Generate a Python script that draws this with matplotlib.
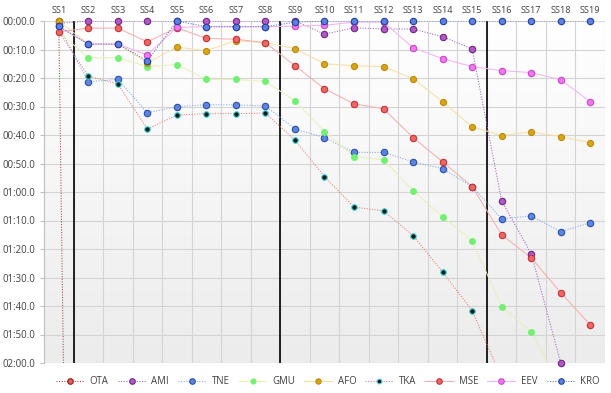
import numpy as np
import matplotlib
matplotlib.use("Agg")
import matplotlib.pyplot as plt
from matplotlib.colors import LinearSegmentedColormap
from matplotlib.lines import Line2D

nan = np.nan
stages = ["SS%d" % i for i in range(1, 20)]

# gap to leader, seconds
OTA = [0, 760] + [nan] * 17
AMI = [0.8, 0, 0, 0, 0, 0, 0, 0, 0, 4.6, 2.4, 2.8, 2.8, 5.5, 9.8, 63.1, 81.6, 119.9, nan]
TNE = [1.9, 21.3, 20.5, 32.2, 30.1, 29.4, 29.4, 29.8, 37.9, 40.9, 46.1, 46.1, 49.4, 51.8, 58.1, 69.4, 68.4, 73.9, 70.8]
GMU = [3.8, 12.9, 12.9, 16.0, 15.3, 20.5, 20.5, 21.2, 28.0, 38.8, 47.6, 48.7, 59.5, 68.7, 77.1, 100.2, 109.0, 128.4, nan]
AFO = [0, 8.1, 8.1, 14.6, 9.2, 10.4, 6.9, 7.6, 9.7, 15.0, 15.7, 16.0, 20.2, 28.3, 37.1, 40.2, 38.9, 40.6, 42.7]
TKA = [3.8, 19.3, 22.1, 37.9, 33.0, 32.5, 32.5, 32.3, 41.8, 54.6, 65.3, 66.6, 75.3, 88.1, 101.6, 125.3, nan, nan, nan]
MSE = [3.8, 2.5, 2.5, 7.3, 2.4, 6.1, 6.4, 7.6, 15.7, 23.8, 29.1, 30.8, 40.9, 49.4, 58.1, 75.0, 83.1, 95.3, 106.6]
EEV = [1.9, 8.1, 8.1, 11.9, 2.2, 2.0, 2.0, 2.0, 1.8, 1.5, 0.4, 0.4, 9.4, 13.2, 16.0, 17.4, 18.1, 20.6, 28.3]
KRO = [1.9, 8.1, 8.1, 14.0, 0, 2.0, 2.0, 2.0, 0.4, 0, 0, 0, 0, 0, 0, 0, 0, 0, 0]

series_names = ["OTA", "AMI", "TNE", "GMU", "AFO", "TKA", "MSE", "EEV", "KRO"]
series_vals = [OTA, AMI, TNE, GMU, AFO, TKA, MSE, EEV, KRO]
# (line color, linestyle, marker face, marker edge, marker size)
styles = {
    "OTA": ("#a84040", (0, (1, 1.5)), "#e06060", "#8b1a1a", 4.6),
    "AMI": ("#a060b8", (0, (1, 1.5)), "#b455c8", "#6a2a80", 4.6),
    "TNE": ("#7fa6ea", (0, (1, 1.5)), "#5f86df", "#2a4ea8", 4.6),
    "GMU": ("#e8f0bc", "-", "#72f072", "#72f072", 4.2),
    "AFO": ("#f7e0a6", "-", "#d9a514", "#b98a10", 4.4),
    "TKA": ("#e87878", (0, (1, 1.5)), "#1a1a1a", "#3fd6d6", 4.0),
    "MSE": ("#f4b0b0", "-", "#f06565", "#c03535", 4.6),
    "EEV": ("#f5b4f2", "-", "#f277f0", "#c648c6", 4.6),
    "KRO": ("#5570c8", (0, (1, 1.5)), "#5d81df", "#22429e", 4.6),
}

plt.rcParams["font.family"] = ["Open Sans", "DejaVu Sans"]

fig = plt.figure(figsize=(6.11, 3.93), dpi=100)
ax = fig.add_axes([44 / 611, 1 - 363 / 393, 561 / 611, 342 / 393])

x = np.arange(len(stages))

# background gradient
cmap = LinearSegmentedColormap.from_list("bg", ["#ffffff", "#ececec"])
grad = np.linspace(0, 1, 256).reshape(-1, 1)
ax.imshow(grad, extent=[0, 1, 0, 1], transform=ax.transAxes, aspect="auto",
          cmap=cmap, zorder=0, origin="upper")

ax.set_xlim(-0.5, len(stages) - 0.5)
ax.set_ylim(120, 0)

# grid
for b in np.arange(0.5, len(stages) - 0.5, 1):
    ax.axvline(b, color="#d4d4d4", lw=0.8, zorder=1)
for yv in range(10, 121, 10):
    ax.axhline(yv, color="#d4d4d4", lw=0.8, zorder=1)
ax.axhline(0, color="#d9d9d9", lw=0.8, zorder=1)
ax.axvline(len(stages) - 0.5, color="#d4d4d4", lw=0.8, zorder=1)
for b in [0.5, 7.5, 14.5]:
    ax.axvline(b, color="black", lw=1.2, zorder=2)

handles = []
for i, (name, vals) in enumerate(zip(series_names, series_vals)):
    lc, ls, mf, me, ms = styles[name]
    v = np.array(vals, dtype=float)
    ax.plot(x, v, color=lc, ls=ls, lw=0.75, zorder=3 + i * 0.1)
    ok = (v <= 120.5) & ~np.isnan(v)
    ax.plot(x[ok], v[ok], ls="none", marker="o", ms=ms, mfc=mf, mec=me, mew=0.8,
            clip_on=False, zorder=5 + i * 0.1)
    handles.append(Line2D([], [], color=lc, ls=ls, lw=0.75, marker="o", ms=ms - 0.6,
                          mfc=mf, mec=me, mew=0.8))

ax.xaxis.tick_top()
ax.set_xticks(x)
ax.set_xticklabels(stages)
ax.tick_params(axis="x", length=0, pad=4, labelsize=6.6, colors="#404040")

yt = list(range(0, 121, 10))
ax.set_yticks(yt)
ax.set_yticklabels(["%02d:%02d.0" % (t // 60, t % 60) for t in yt])
ax.tick_params(axis="y", length=3, width=0.8, color="#bfbfbf", pad=3,
               labelsize=6.9, labelcolor="#404040")

for s in ["top", "bottom", "right"]:
    ax.spines[s].set_visible(False)
ax.spines["left"].set_color("#bfbfbf")
ax.spines["left"].set_linewidth(0.8)

fig.legend(handles, series_names, loc="center", ncol=9,
           bbox_to_anchor=(328 / 611, 1 - 382 / 393), frameon=False,
           fontsize=6.9, handlelength=2.9, handletextpad=0.6, columnspacing=0.95,
           labelcolor="#404040")

fig.savefig("out.png", dpi=100)
